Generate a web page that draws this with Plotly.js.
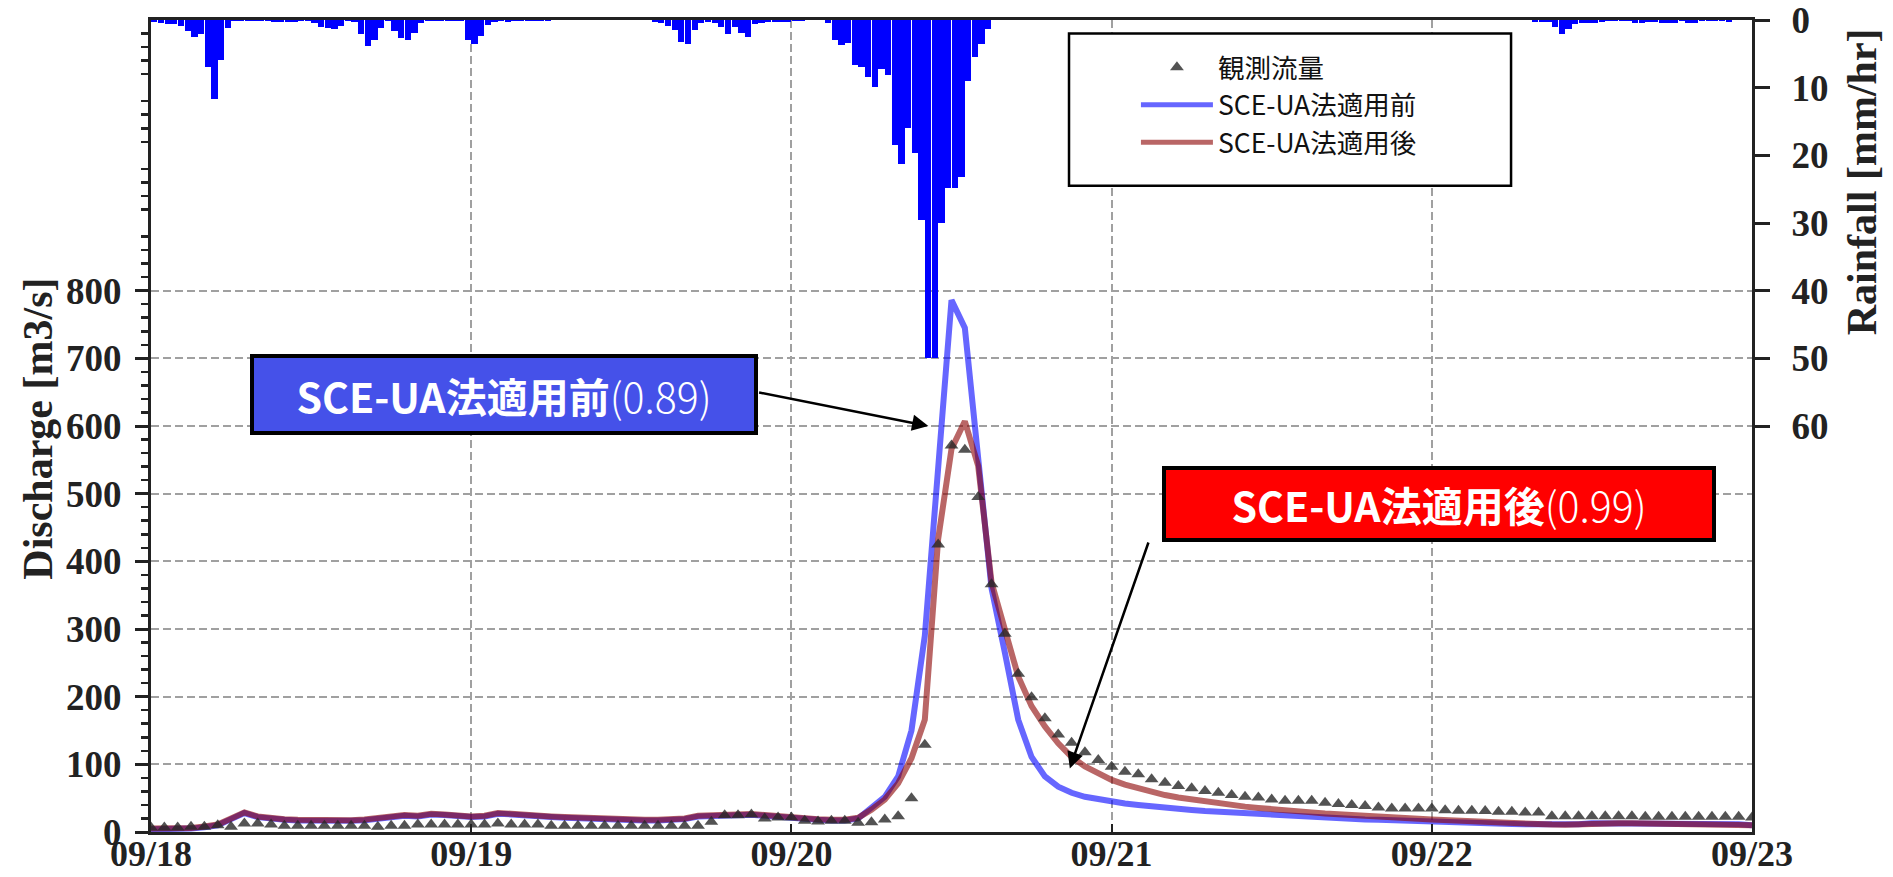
<!DOCTYPE html>
<html>
<head>
<meta charset="utf-8">
<script src="https://cdn.plot.ly/plotly-3.0.1.min.js"></script>
<style>html,body{margin:0;padding:0;background:#fff;}#chart{width:1893px;height:877px;}</style>
</head>
<body>
<div id="chart"></div>
<script>
// ---------- data ----------
const startDay = 18;               // 2019-09-18 00:00
const dayTicks = ['09/18','09/19','09/20','09/21','09/22','09/23'];

// half-hourly rainfall [mm/hr], 240 intervals from 09/18 00:00
const rainfall = [
 0.25,0.5,0.65,0.65,0.9,1.6,2.5,2.1,6.9,11.7,5.9,1.2,
 0.15,0.15,0.15,0.15,0.15,0.1,0.25,0.25,0.35,0.25,0.1,0.1,
 0.5,1.0,1.2,1.4,0.9,0.1,0.25,2.1,3.9,2.9,1.2,0.15,
 1.6,2.6,3.0,1.9,0.5,0.1,0.1,0.1,0.1,0.1,0.1,3.0,
 3.6,2.3,0.7,0.25,0.15,0.35,0.15,0.15,0.15,0.15,0.15,0.15,
 0,0,0,0,0,0,0,0,0,0,0,0,
 0,0,0,0.25,0.5,0.9,1.5,3.3,3.6,1.5,0.5,0.25,
 0.4,1.0,2.0,1.0,1.9,2.5,0.65,0.4,0.25,0.25,0.25,0.25,
 0.15,0.15,0,0,0,0.4,2.9,3.7,3.4,6.7,6.9,8.4,
 9.9,7.2,8.2,18.4,21.3,15.9,19.7,29.5,50,50,30,24.8,
 24.9,23.2,9.0,5.4,3.6,1.3,0,0,0,0,0,0,
 0,0,0,0,0,0,0,0,0,0,0,0,
 0,0,0,0,0,0,0,0,0,0,0,0,
 0,0,0,0,0,0,0,0,0,0,0,0,
 0,0,0,0,0,0,0,0,0,0,0,0,
 0,0,0,0,0,0,0,0,0,0,0,0,
 0,0,0,0,0,0,0,0,0,0,0,0,
 0,0,0,0.25,0.25,0.25,1.0,2.0,1.4,0.65,0.5,0.4,
 0.4,0.3,0.2,0.2,0.2,0.2,0.4,0.4,0.25,0.25,0.4,0.5,
 0.5,0.1,0.5,0.5,0.1,0.1,0.1,0.1,0.25,0,0,0
];

// hourly discharge [m3/s], 121 values from 09/18 00:00 to 09/23 00:00
const observed = [
 6.6,6.6,6.6,7.6,7.6,10,7.6,12.6,12.6,11.1,
 9.1,9.1,9.1,9.1,9.1,9.1,9.1,7.6,9.1,9.1,
 11.1,11.1,11.1,11.1,11.1,11.1,12.6,11.1,11.1,11.1,
 9.1,9.1,9.1,9.1,9.1,9.1,9.1,9.1,9.1,9.1,
 9.1,9.1,15,24.9,24.9,25.9,20,21.5,21.5,16.5,
 15.5,16.5,16.5,13.5,14.5,18.5,23.4,49.7,128.8,425,
 571,565,495,366,293,234,199,168,144,132,
 118,106.5,96.6,89.2,85.3,77.8,72.9,68,64.5,60.5,
 58,54.6,52.1,51.1,48.2,46.2,46.2,46.2,43.2,41.2,
 39.8,38.3,36.3,34.8,34.8,34.8,34.8,32.3,31.4,31.4,
 30.9,29.9,29.9,28.9,28.9,23.4,23.4,23.4,23.4,23.4,
 23.4,23.4,22.5,22.5,22.5,22.5,22.5,22.5,22.5,22.5,
 21.5
];
const before = [
 4,4,4,5,7,10,19,28,22,19,
 18,17,16.5,16.5,16.5,16.5,17.5,20,23,24,
 23,26,25,23,22,23,27,26,24,23,
 22,21,20,19,18,18,17,17,17,17.5,
 19,23,24,24,25,25.5,24,22,21,19,
 18,17,17,20,35,52,82,150,290,540,
 786,745,560,360,265,166,111,82,67,58,
 52,48,44.7,42,39.8,37.5,35.8,34,32.5,31,
 29.8,28.5,27.3,26,24.9,24,23,22.2,21.5,20.5,
 19.5,18.5,18,17.2,16.5,15.8,15.2,14.6,14,13.5,
 13,12.5,12,11.5,11,10.5,10.5,11.5,13,13,
 13,13,12.8,12.6,12.5,12.4,12.3,12.2,12,11.5,
 10
];
const after = [
 5,5,5,6,8,11,20,29,23,20,
 19,18,17.5,17.5,17.5,17.5,18.5,21,24,25,
 24,27,26,24,23,24,28,27,25,24,
 23,22,21,20,19,19,18,18,18,18.5,
 20,24,25,25,26,26.5,25,23,22,20,
 19,18,18,21,33,48,72,109,166,433,
 566,607,541,369,299,230,186,156,131,111,
 97,87,77,70,64.5,59,54.6,51,48,45,
 42.3,40,37.5,35.5,33.4,32,30.5,29,27.4,26,
 24.5,23.4,22.5,21.5,20.5,19.5,18.5,17.5,16.5,15.5,
 14.5,13.8,13,12.3,11.6,11,10.8,11.8,13,13,
 13,13,12.8,12.6,12.5,12.4,12.3,12.2,12,11.5,
 10
];
const seriesNames = ['観測流量','SCE-UA法適用前','SCE-UA法適用後'];
const dischargeTicks = [0,100,200,300,400,500,600,700,800];
const rainTicks = [0,10,20,30,40,50,60];

// ---------- helpers ----------
function stamp(minutes){
  const d = startDay + Math.floor(minutes/1440);
  const rem = minutes % 1440;
  const hh = Math.floor(rem/60), mm = rem % 60;
  const p = n => String(n).padStart(2,'0');
  return '2019-09-' + p(d) + ' ' + p(hh) + ':' + p(mm);
}
const hourX = observed.map((_, i) => stamp(i*60));
const rainX = rainfall.map((_, k) => stamp(k*30 + 15));
const tickX = dayTicks.map((_, i) => stamp(i*1440));
const minorVals = [];
for (let v = 0; v <= 1200; v += 20) { if (v % 100 !== 0) minorVals.push(v); }

const serif = 'Liberation Serif, Times New Roman, serif';
const cjk = 'Noto Sans CJK JP, Noto Sans, sans-serif';
const tickFont = {family:serif, size:37, color:'#222', weight:'bold'};

const traces = [
  {type:'bar', x: rainX, y: rainfall, yaxis:'y2', width: 30*60*1000*0.94,
   marker:{color:'#0000FF', line:{width:0}}, showlegend:false, hoverinfo:'skip'},
  {type:'scatter', mode:'lines', name: seriesNames[1], x: hourX, y: before,
   line:{color:'rgba(0,0,255,0.6)', width:6}, legendrank:2},
  {type:'scatter', mode:'lines', name: seriesNames[2], x: hourX, y: after,
   line:{color:'rgba(139,0,0,0.6)', width:6}, legendrank:3},
  {type:'scatter', mode:'markers', name: seriesNames[0], x: hourX, y: observed,
   marker:{symbol:'triangle-up', size:12, color:'rgba(40,40,40,0.8)'}, legendrank:1, cliponaxis:true}
];

const layout = {
  width:1893, height:877,
  margin:{l:151, r:141, t:20, b:45},
  paper_bgcolor:'#fff', plot_bgcolor:'#fff',
  showlegend:true,
  legend:{x:0.6152, y:0.971, xanchor:'left', yanchor:'top', bgcolor:'rgba(0,0,0,0)', borderwidth:0,
          font:{family:cjk, size:26.5, color:'#111'}, itemwidth:72, itemsizing:'constant', tracegroupgap:0},
  xaxis:{type:'date', range:[tickX[0], tickX[5]], tickvals: tickX, ticktext: dayTicks,
         showgrid:true, gridcolor:'#a0a0a0', gridwidth:2, griddash:'8px,4px',
         showline:true, linecolor:'#222', linewidth:3, mirror:true,
         ticks:'inside', ticklen:8, tickwidth:2, tickcolor:'#222', ticklabelstandoff:-12,
         ticklabeloverflow:'allow',
         tickfont:{family:serif, size:36, color:'#222', weight:'bold'}, zeroline:false, fixedrange:true},
  yaxis:{range:[0,1200], tickvals: dischargeTicks, showgrid:true, gridcolor:'#a0a0a0', gridwidth:2, griddash:'8px,4px',
         showline:true, linecolor:'#222', linewidth:3, ticks:'outside', ticklen:13, tickwidth:3, tickcolor:'#222',
         ticklabelstandoff:6, ticklabeloverflow:'allow',
         minor:{tickvals: minorVals, ticks:'outside', ticklen:7, tickwidth:2.5, tickcolor:'#222', showgrid:false},
         tickfont:tickFont, zeroline:false, fixedrange:true},
  yaxis2:{range:[120,0], overlaying:'y', side:'right', tickvals: rainTicks, showgrid:false,
          showline:true, linecolor:'#222', linewidth:3, ticks:'outside', ticklen:15, tickwidth:3, tickcolor:'#222',
          ticklabelstandoff:14, ticklabeloverflow:'allow',
          tickfont:tickFont, zeroline:false, fixedrange:true},
  shapes:[
    {type:'rect', xref:'paper', yref:'paper', x0:0.5734, x1:0.8495, y0:0.796, y1:0.9834,
     line:{color:'#000', width:2.5}, fillcolor:'#fff', layer:'above'}
  ],
  annotations:[
    {xref:'paper', yref:'paper', x:-0.0704, y:0.4971, xanchor:'center', yanchor:'middle', textangle:-90,
     text:'<b>Discharge [m3/s]</b>', showarrow:false, font:{family:serif, size:42, color:'#222'}},
    {xref:'paper', yref:'paper', x:1.0687, y:0.8014, xanchor:'center', yanchor:'middle', textangle:-90,
     text:'<b>Rainfall [mm/hr]</b>', showarrow:false, font:{family:serif, size:42, color:'#222'}},
    // arrows
    {x: stamp(58*60+16), y: 600, ax: stamp(45*60+28), ay: 650, axref:'x', ayref:'y', xref:'x', yref:'y',
     text:'', showarrow:true, arrowhead:2, arrowsize:1.3, arrowwidth:2.5, arrowcolor:'#000'},
    {x: stamp(68*60+52), y: 94, ax: stamp(74*60+48), ay: 430, axref:'x', ayref:'y', xref:'x', yref:'y',
     text:'', showarrow:true, arrowhead:2, arrowsize:1.3, arrowwidth:2.5, arrowcolor:'#000'},
    // label boxes
    {xref:'paper', yref:'paper', x:0.2205, y:0.5384, xanchor:'center', yanchor:'middle', showarrow:false,
     text:'<b>SCE-UA法適用前</b><span style="font-weight:300">(0.89)</span>', width:496, height:69, align:'center', valign:'middle',
     bgcolor:'#4551E9', bordercolor:'#000', borderwidth:4, borderpad:2,
     font:{family:cjk, size:41, color:'#fff'}},
    {xref:'paper', yref:'paper', x:0.8042, y:0.4041, xanchor:'center', yanchor:'middle', showarrow:false,
     text:'<b>SCE-UA法適用後</b><span style="font-weight:300">(0.99)</span>', width:542, height:64, align:'center', valign:'middle',
     bgcolor:'#FF0000', bordercolor:'#000', borderwidth:4, borderpad:2,
     font:{family:cjk, size:41, color:'#fff'}}
  ],
  bargap:0
};

Plotly.newPlot('chart', traces, layout, {staticPlot:true, displayModeBar:false});
</script>
</body>
</html>
